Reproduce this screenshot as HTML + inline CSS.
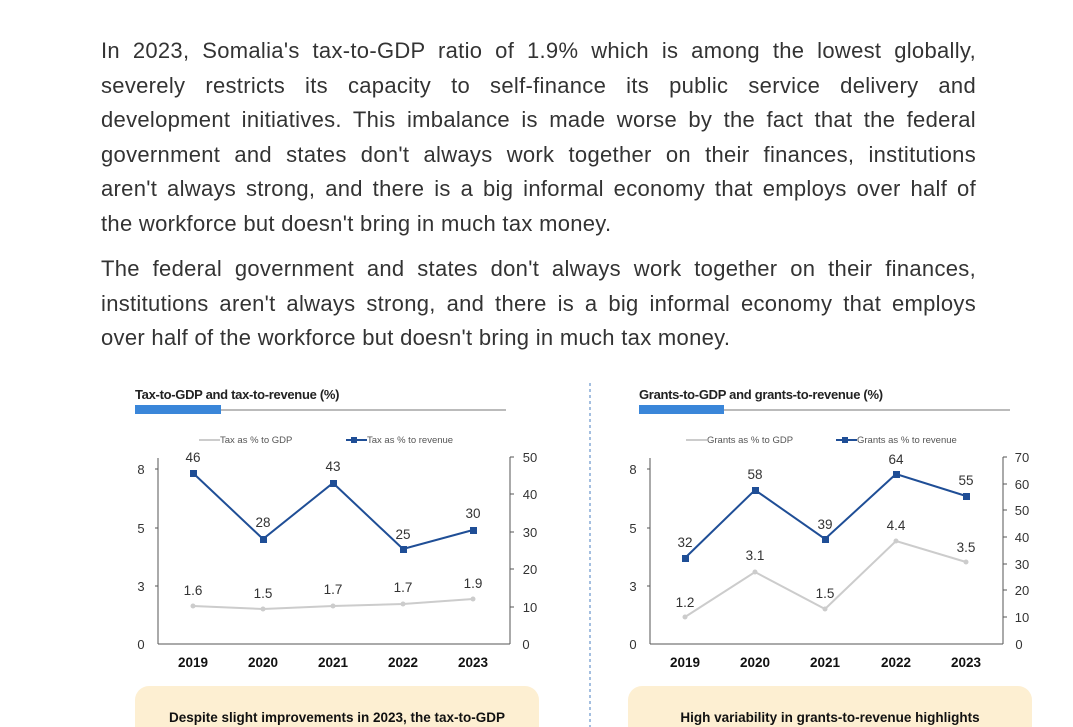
<!DOCTYPE html>
<html><head><meta charset="utf-8"><style>
body{margin:0;width:1073px;height:727px;background:#fff;overflow:hidden;font-family:"Liberation Sans",sans-serif;position:relative}
.p{position:absolute;left:101px;width:875px;font-size:22px;letter-spacing:0.3px;line-height:34.6px;color:#333;margin:0}
.p div{text-align:justify;text-align-last:justify;white-space:nowrap}
.p div.l{text-align-last:left}
svg{position:absolute;left:0;top:0}
</style></head><body>
<div class="p" style="top:34px">
<div>In 2023, Somalia's tax-to-GDP ratio of 1.9% which is among the lowest globally,</div>
<div>severely restricts its capacity to self-finance its public service delivery and</div>
<div>development initiatives. This imbalance is made worse by the fact that the federal</div>
<div>government and states don't always work together on their finances, institutions</div>
<div>aren't always strong, and there is a big informal economy that employs over half of</div>
<div class="l">the workforce but doesn't bring in much tax money.</div>
</div>
<div class="p" style="top:252px">
<div>The federal government and states don't always work together on their finances,</div>
<div>institutions aren't always strong, and there is a big informal economy that employs</div>
<div class="l">over half of the workforce but doesn't bring in much tax money.</div>
</div>
<svg width="1073" height="727" font-family="Liberation Sans, sans-serif">
<line x1="590" y1="383" x2="590" y2="727" stroke="#4a7fc0" stroke-dasharray="3,3"/>
<text x="135" y="399" font-size="13" font-weight="bold" fill="#222" letter-spacing="-0.3">Tax-to-GDP and tax-to-revenue (%)</text>
<line x1="135" y1="410" x2="506" y2="410" stroke="#777" stroke-width="1"/>
<rect x="135" y="405" width="86" height="9" fill="#3a86d9"/>
<line x1="199" y1="440" x2="220" y2="440" stroke="#ccc" stroke-width="2"/><text x="220" y="443" font-size="9.5" fill="#555">Tax as % to GDP</text>
<line x1="346" y1="440" x2="367" y2="440" stroke="#1f4e96" stroke-width="2"/><rect x="351" y="437" width="6" height="6" fill="#1f4e96"/><text x="367" y="443" font-size="9.5" fill="#555">Tax as % to revenue</text>
<g stroke="#555" stroke-width="1"><line x1="158" y1="458" x2="158" y2="644"/><line x1="158" y1="644" x2="510" y2="644"/><line x1="510" y1="457" x2="510" y2="644"/>
<line x1="155" y1="469" x2="158" y2="469"/><line x1="155" y1="528" x2="158" y2="528"/><line x1="155" y1="586" x2="158" y2="586"/>
<line x1="510" y1="457" x2="514" y2="457"/><line x1="510" y1="494" x2="514" y2="494"/><line x1="510" y1="532" x2="514" y2="532"/><line x1="510" y1="569" x2="514" y2="569"/><line x1="510" y1="607" x2="514" y2="607"/></g>
<g font-size="13" fill="#333" text-anchor="middle"><text x="141" y="474">8</text><text x="141" y="533">5</text><text x="141" y="591">3</text><text x="141" y="649">0</text>
<text x="530" y="462">50</text><text x="530" y="499">40</text><text x="530" y="537">30</text><text x="530" y="574">20</text><text x="530" y="612">10</text><text x="526" y="649">0</text></g>
<g font-size="13.5" font-weight="bold" fill="#111" text-anchor="middle"><text x="193" y="667">2019</text><text x="263" y="667">2020</text><text x="333" y="667">2021</text><text x="403" y="667">2022</text><text x="473" y="667">2023</text></g>
<polyline points="193,606 263,609 333,606 403,604 473,599" fill="none" stroke="#ccc" stroke-width="2"/>
<g fill="#ccc"><circle cx="193" cy="606" r="2.5"/><circle cx="263" cy="609" r="2.5"/><circle cx="333" cy="606" r="2.5"/><circle cx="403" cy="604" r="2.5"/><circle cx="473" cy="599" r="2.5"/></g>
<polyline points="193,473 263,539 333,483 403,549 473,530" fill="none" stroke="#1f4e96" stroke-width="2"/>
<g fill="#1f4e96"><rect x="190" y="470" width="7" height="7"/><rect x="260" y="536" width="7" height="7"/><rect x="330" y="480" width="7" height="7"/><rect x="400" y="546" width="7" height="7"/><rect x="470" y="527" width="7" height="7"/></g>
<g font-size="13.5" fill="#333" text-anchor="middle"><text x="193" y="462">46</text><text x="263" y="527">28</text><text x="333" y="471">43</text><text x="403" y="539">25</text><text x="473" y="518">30</text>
<text x="193" y="595">1.6</text><text x="263" y="598">1.5</text><text x="333" y="594">1.7</text><text x="403" y="592">1.7</text><text x="473" y="588">1.9</text></g>
<rect x="135" y="686" width="404" height="60" rx="14" fill="#fdefd2"/>
<text x="337" y="722" font-size="13.5" font-weight="bold" fill="#111" text-anchor="middle">Despite slight improvements in 2023, the tax-to-GDP</text>
<text x="639" y="399" font-size="13" font-weight="bold" fill="#222" letter-spacing="-0.3">Grants-to-GDP and grants-to-revenue (%)</text>
<line x1="639" y1="410" x2="1010" y2="410" stroke="#777" stroke-width="1"/>
<rect x="639" y="405" width="85" height="9" fill="#3a86d9"/>
<line x1="686" y1="440" x2="707" y2="440" stroke="#ccc" stroke-width="2"/><text x="707" y="443" font-size="9.5" fill="#555">Grants as % to GDP</text>
<line x1="836" y1="440" x2="857" y2="440" stroke="#1f4e96" stroke-width="2"/><rect x="842" y="437" width="6" height="6" fill="#1f4e96"/><text x="857" y="443" font-size="9.5" fill="#555">Grants as % to revenue</text>
<g stroke="#555" stroke-width="1"><line x1="650" y1="458" x2="650" y2="644"/><line x1="650" y1="644" x2="1003" y2="644"/><line x1="1003" y1="457" x2="1003" y2="644"/>
<line x1="647" y1="469" x2="650" y2="469"/><line x1="647" y1="528" x2="650" y2="528"/><line x1="647" y1="586" x2="650" y2="586"/>
<line x1="1003" y1="457" x2="1007" y2="457"/><line x1="1003" y1="484" x2="1007" y2="484"/><line x1="1003" y1="510" x2="1007" y2="510"/><line x1="1003" y1="537" x2="1007" y2="537"/><line x1="1003" y1="564" x2="1007" y2="564"/><line x1="1003" y1="590" x2="1007" y2="590"/><line x1="1003" y1="617" x2="1007" y2="617"/></g>
<g font-size="13" fill="#333" text-anchor="middle"><text x="633" y="474">8</text><text x="633" y="533">5</text><text x="633" y="591">3</text><text x="633" y="649">0</text>
<text x="1022" y="462">70</text><text x="1022" y="489">60</text><text x="1022" y="515">50</text><text x="1022" y="542">40</text><text x="1022" y="569">30</text><text x="1022" y="595">20</text><text x="1022" y="622">10</text><text x="1019" y="649">0</text></g>
<g font-size="13.5" font-weight="bold" fill="#111" text-anchor="middle"><text x="685" y="667">2019</text><text x="755" y="667">2020</text><text x="825" y="667">2021</text><text x="896" y="667">2022</text><text x="966" y="667">2023</text></g>
<polyline points="685,617 755,572 825,609 896,541 966,562" fill="none" stroke="#ccc" stroke-width="2"/>
<g fill="#ccc"><circle cx="685" cy="617" r="2.5"/><circle cx="755" cy="572" r="2.5"/><circle cx="825" cy="609" r="2.5"/><circle cx="896" cy="541" r="2.5"/><circle cx="966" cy="562" r="2.5"/></g>
<polyline points="685,558 755,490 825,539 896,474 966,496" fill="none" stroke="#1f4e96" stroke-width="2"/>
<g fill="#1f4e96"><rect x="682" y="555" width="7" height="7"/><rect x="752" y="487" width="7" height="7"/><rect x="822" y="536" width="7" height="7"/><rect x="893" y="471" width="7" height="7"/><rect x="963" y="493" width="7" height="7"/></g>
<g font-size="13.5" fill="#333" text-anchor="middle"><text x="685" y="547">32</text><text x="755" y="479">58</text><text x="825" y="529">39</text><text x="896" y="464">64</text><text x="966" y="485">55</text>
<text x="685" y="607">1.2</text><text x="755" y="560">3.1</text><text x="825" y="598">1.5</text><text x="896" y="530">4.4</text><text x="966" y="552">3.5</text></g>
<rect x="628" y="686" width="404" height="60" rx="14" fill="#fdefd2"/>
<text x="830" y="722" font-size="13.5" font-weight="bold" fill="#111" text-anchor="middle">High variability in grants-to-revenue highlights</text>
</svg>
</body></html>
